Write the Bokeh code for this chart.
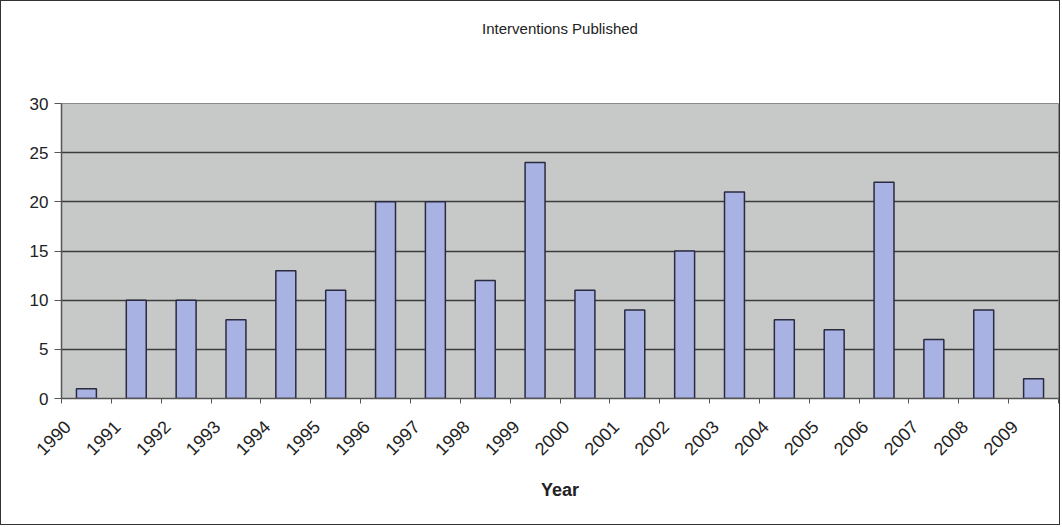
import math
from bokeh.plotting import figure
from bokeh.models import ColumnDataSource, FixedTicker, Range1d, Title
from bokeh.embed import file_html
from bokeh.resources import INLINE

years = ["1990", "1991", "1992", "1993", "1994", "1995", "1996", "1997", "1998", "1999",
         "2000", "2001", "2002", "2003", "2004", "2005", "2006", "2007", "2008", "2009"]
counts = [1, 10, 10, 8, 13, 11, 20, 20, 12, 24, 11, 9, 15, 21, 8, 7, 22, 6, 9, 2]
y_ticks = [0, 5, 10, 15, 20, 25, 30]

xpos = [i + 0.5 for i in range(len(years))]
label_pos = [i + 0.12 for i in range(len(years))]
src = ColumnDataSource(dict(x=xpos, top=counts, year=years))

p = figure(width=1060, height=525, output_backend="svg", toolbar_location=None,
           x_range=Range1d(0, len(years)), y_range=Range1d(0, 30),
           title="Interventions Published",
           min_border_left=60, min_border_right=3, min_border_bottom=128, min_border_top=102)

p.border_fill_color = "white"
p.background_fill_color = "#c7c8c8"
p.outline_line_color = "#8a8a8a"
p.styles = {"border": "1px solid #333333"}

p.title.align = "center"
p.title.vertical_align = "bottom"
p.title.text_font = "Liberation Sans"
p.title.text_font_size = "15px"
p.title.text_font_style = "normal"
p.title.text_color = "#222222"
p.title.standoff = 8

# empty spacer between the title and the plot area
p.add_layout(Title(text=" ", text_font_size="10px", standoff=50), "above")

p.vbar(x="x", top="top", width=0.4, source=src, fill_color="#a9b3e3",
       line_color="#2a2a40", line_width=1.5)

# axes
p.xaxis.ticker = FixedTicker(ticks=label_pos, minor_ticks=list(range(len(years) + 1)))
p.xaxis.major_label_overrides = {x: y for x, y in zip(label_pos, years)}
p.xaxis.major_label_orientation = math.pi / 4
p.xaxis.major_tick_out = 0
p.xaxis.major_tick_in = 0
p.xaxis.minor_tick_out = 5
p.xaxis.minor_tick_in = 0
p.xaxis.minor_tick_line_color = "#555555"
p.xaxis.axis_line_color = "#555555"
p.xaxis.axis_line_width = 1.5
p.xaxis.major_label_text_font = "Liberation Sans"
p.xaxis.major_label_text_font_size = "18px"
p.xaxis.major_label_text_color = "#222222"
p.xaxis.major_label_standoff = 20
p.xaxis.axis_label = "Year"
p.xaxis.axis_label_text_font = "Liberation Sans"
p.xaxis.axis_label_text_font_size = "18px"
p.xaxis.axis_label_text_font_style = "bold"
p.xaxis.axis_label_text_color = "#222222"
p.xaxis.axis_label_standoff = 16

p.yaxis.ticker = FixedTicker(ticks=y_ticks)
p.yaxis.axis_line_color = "#555555"
p.yaxis.axis_line_width = 1.5
p.yaxis.major_tick_out = 7
p.yaxis.major_tick_in = 0
p.yaxis.major_tick_line_color = "#555555"
p.yaxis.minor_tick_line_color = None
p.yaxis.major_label_text_font = "Liberation Sans"
p.yaxis.major_label_text_font_size = "17px"
p.yaxis.major_label_text_color = "#222222"
p.yaxis.major_label_standoff = 6

p.xgrid.grid_line_color = None
p.ygrid.ticker = FixedTicker(ticks=y_ticks)
p.ygrid.grid_line_color = "#3c3c3c"
p.ygrid.grid_line_width = 1.5

open("out.html", "w").write(file_html(p, INLINE))
